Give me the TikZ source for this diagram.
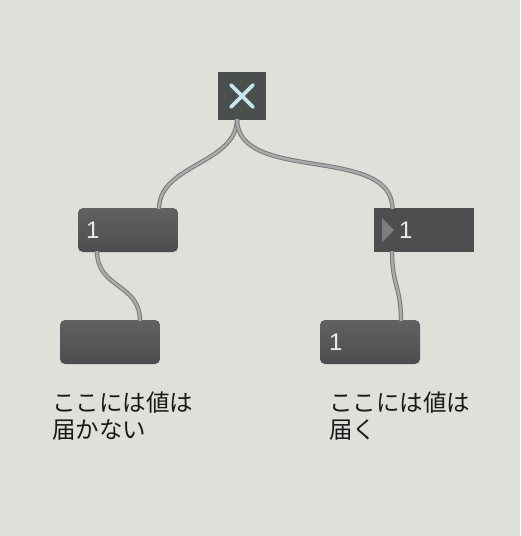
\documentclass[tikz,border=0pt]{standalone}
\usepackage{fontspec}
\setmainfont{Liberation Sans}
\newfontfamily\jpfont{Noto Sans CJK JP}
\definecolor{bg}{HTML}{DFE0DA}
\definecolor{boxtop}{HTML}{606164}
\definecolor{boxbot}{HTML}{4A4D4D}
\definecolor{numbox}{HTML}{4C4F4E}
\definecolor{btn}{HTML}{4A4F4E}
\definecolor{xcol}{HTML}{C6E4EA}
\definecolor{cabout}{HTML}{7A7A7A}
\definecolor{cabin}{HTML}{AAAAAA}
\definecolor{tri}{HTML}{7C7F80}
\tikzset{
  msgbox/.style={rounded corners=5pt, top color=boxtop, bottom color=boxbot, draw=none, minimum width=100pt, minimum height=44pt, inner sep=0pt},
  numboxst/.style={fill=numbox, draw=none, minimum width=100pt, minimum height=44pt, inner sep=0pt},
  btnst/.style={fill=btn, draw=none, minimum width=48pt, minimum height=48pt, inner sep=0pt},
  cable/.style={line width=4.4pt, draw=cabout, postaction={draw=cabin, line width=2.4pt}},
  numtext/.style={text=white!92!black, font=\fontsize{24}{26}\selectfont, inner sep=0pt, anchor=west},
  jptext/.style={font=\jpfont\fontsize{23.5}{27}\selectfont, align=left, anchor=north west, inner sep=0pt, text=black!90}
}
\begin{document}
\begin{tikzpicture}[x=1pt,y=-1pt]
\fill[bg] (0,0) rectangle (520,536);
\useasboundingbox (0,0) rectangle (520,536);
% objects
\node[btnst] (btn) at (242,96) {};
\draw[xcol, line width=3.8pt, line cap=round] (231,85) -- (253,107) (253,85) -- (231,107);
\node[msgbox] (m1) at (128,230) {};
\node[numtext] (m1t) at (86,230) {1};
\node[numboxst] (nb) at (424,230) {};
\fill[tri] (382,218) -- (394,230) -- (382,242) -- cycle;
\node[numtext] (nbt) at (399,230) {1};
\node[msgbox] (m2) at (110,342) {};
\node[msgbox] (m3) at (370,342) {};
\node[numtext] (m3t) at (329,342) {1};
% anchor coordinates
\coordinate (bo) at (237,119);
\coordinate (m1in) at (159,209);
\coordinate (nbin) at (392.5,209);
\coordinate (m1out) at (97,251);
\coordinate (m2in) at (140,321);
\coordinate (nbout) at (392,251);
\coordinate (m3in) at (401,321);
% cables
\draw[cable] (bo) .. controls +(0,45) and +(0,-45) .. (m1in);
\draw[cable] (bo) .. controls +(0,65) and +(0,-65) .. (nbin);
\draw[cable] (m1out) .. controls +(0,38) and +(0,-38) .. (m2in);
\draw[cable] (nbout) .. controls +(0,35) and +(0,-35) .. (m3in);
% texts
\node[jptext] (t1) at (52,392) {ここには値は\\届かない};
\node[jptext] (t2) at (329,392) {ここには値は\\届く};
\end{tikzpicture}
\end{document}
